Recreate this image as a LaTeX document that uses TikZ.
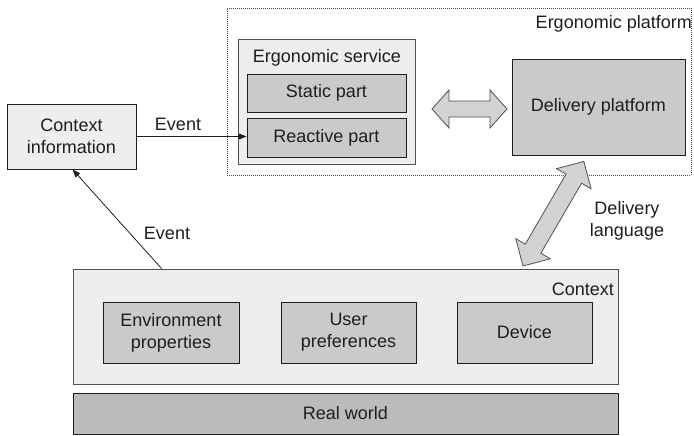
\documentclass[tikz,border=0pt]{standalone}
\usepackage{fontspec}
\setmainfont{Liberation Sans}
\usetikzlibrary{arrows.meta,calc}

\definecolor{inkc}{HTML}{1E1E1E}
\definecolor{lightfill}{HTML}{EEEEEE}
\definecolor{midfill}{HTML}{CACACA}
\definecolor{darkfill}{HTML}{BBBBBB}
\definecolor{arrowfill}{HTML}{D2D2D2}
\definecolor{framec}{HTML}{505050}

\tikzset{
  txt/.style={font=\fontsize{18}{22}\selectfont, text=inkc, align=center, inner sep=0pt},
  outerbox/.style={draw=framec, line width=0.9pt, fill=lightfill, inner sep=0pt},
  innerbox/.style={draw=inkc, line width=0.9pt, fill=midfill, txt},
  platformbox/.style={draw=framec, line width=0.9pt, dash pattern=on 1pt off 1pt, inner sep=0pt},
  flow/.style={draw=inkc, line width=0.8pt, -{Triangle[length=8pt,width=6pt]}},
  fatarrow/.style={draw=framec, line width=0.8pt, fill=arrowfill, line join=miter},
}

\begin{document}
\begin{tikzpicture}[x=1pt,y=-1pt]
\useasboundingbox (0,0) rectangle (694,436);

% Ergonomic platform (dotted frame)
\node[platformbox, minimum width=464pt, minimum height=167pt] (platform) at (459,91.5) {};
\node[txt, anchor=base east] (platformlabel) at (692,29) {Ergonomic platform};

% Ergonomic service with its two parts
\node[outerbox, minimum width=177pt, minimum height=125pt] (service) at (326.5,101.5) {};
\node[txt, anchor=base] (servicelabel) at (327,63) {Ergonomic service};
\node[innerbox, minimum width=159pt, minimum height=38pt] (static) at (326.5,93) {Static part};
\node[innerbox, minimum width=159pt, minimum height=39pt] (reactive) at (326.5,137.5) {Reactive part};

% Delivery platform
\node[innerbox, minimum width=173pt, minimum height=96pt] (delivery) at (598.5,107) {Delivery platform};

% Context information
\node[outerbox, draw=inkc, txt, minimum width=129pt, minimum height=65pt] (ctxinfo) at (71.5,136.5) {Context\\information};

% Context with its three elements
\node[outerbox, minimum width=545pt, minimum height=115pt] (context) at (345.5,326.5) {};
\node[txt, anchor=base east] (contextlabel) at (614,295) {Context};
\node[innerbox, minimum width=136pt, minimum height=61pt] (env) at (171,332.5) {Environment\\properties};
\node[innerbox, minimum width=135pt, minimum height=61pt] (user) at (348.5,332.5) {User\\preferences};
\node[innerbox, minimum width=135pt, minimum height=61pt] (device) at (524.5,332.5) {Device};

% Real world
\node[innerbox, fill=darkfill, minimum width=545pt, minimum height=41pt] (realworld) at (345.5,413.5) {Real world};

% Event flows
\draw[flow] (ctxinfo.east) -- (ctxinfo.east -| reactive.west);
\node[txt, anchor=base] (eventlabelA) at (178,131) {Event};

\coordinate (evstart) at ($(context.north west)+(89,0)$);
\coordinate (evend) at ($(ctxinfo.south west)+(66,0)$);
\draw[flow] (evstart) -- (evend);
\node[txt, anchor=base] (eventlabelB) at (167,239) {Event};

% Exchange between service and delivery platform
\draw[fatarrow] (432,109) -- (449,90) -- (449,101) -- (490,101) -- (490,90)
  -- (507,109) -- (490,128) -- (490,117) -- (449,117) -- (449,128) -- cycle;

% Delivery language between context and delivery platform
\begin{scope}[shift={(523,266)}, rotate=59.8]
  \draw[fatarrow] (0,0) -- (20,20) -- (20,9) -- (101,9) -- (101,20)
    -- (121,0) -- (101,-20) -- (101,-9) -- (20,-9) -- (20,-20) -- cycle;
\end{scope}
\node[txt] (langlabel) at (627,221) {Delivery\\language};

\end{tikzpicture}
\end{document}
